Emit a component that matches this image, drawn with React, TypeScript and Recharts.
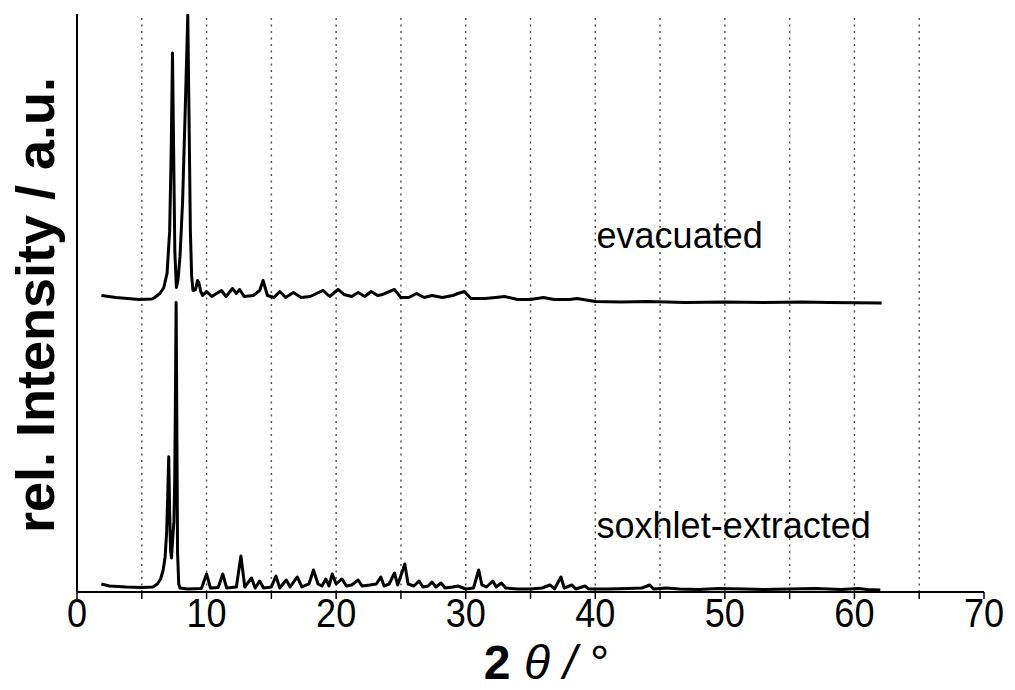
import React from 'react'
import { LineChart, Line, XAxis, YAxis, ReferenceLine, ReferenceDot } from 'recharts'

// 2θ / intensity (a.u.)
const evacuatedAngle = [
  1.88, 3.0, 4.8, 5.8, 6.0, 6.4, 6.7, 6.95, 7.15, 7.27, 7.37, 7.45, 7.55, 7.67, 7.8, 7.95, 8.15, 8.35, 8.55,
  8.65, 8.75, 8.85, 8.95, 9.15, 9.3, 9.4, 9.55, 9.7,
  10.0, 10.4, 11.15, 11.5, 12.0, 12.3, 12.55, 12.9, 13.6, 14.1, 14.36, 14.7, 15.2, 15.65, 16.1, 16.7, 17.3, 18.0,
  19.0, 19.5, 20.15, 20.6, 21.2, 21.7, 22.2, 22.7, 23.2, 23.6, 24.5, 25.0, 25.6, 26.2, 26.8, 27.4, 28.2, 29.0,
  29.4, 29.9, 30.4, 31.5, 32.3, 33.0, 34.0, 35.0, 36.0, 36.8, 38.0, 38.6, 40, 42, 44, 47, 50, 53, 56, 58, 62.1,
]
const evacuatedIntensity = [
  296, 294, 292, 292.5, 294, 298, 304, 318, 360, 440, 538, 450, 340, 304, 312, 335, 390, 480, 576,
  470, 360, 315, 301, 302, 311, 309, 300, 296,
  300, 295, 301, 295, 303, 298, 302, 295, 296, 301, 311, 296, 294, 300, 294, 299, 294, 295,
  301, 295, 302, 297, 295, 299, 295, 300, 296, 297, 302, 294, 294, 298, 294, 296, 294, 296,
  298, 300, 293, 293, 294, 295, 292, 292, 294, 292, 292, 293, 290, 289.5, 290, 289, 289.5, 289, 289.5, 289, 288.5,
]

const soxhletAngle = [
  1.88, 2.5, 3.8, 5.0, 5.85, 6.2, 6.45, 6.65, 6.8, 6.92, 7.0, 7.08, 7.15, 7.22, 7.29, 7.36, 7.42, 7.48, 7.54,
  7.6, 7.65, 7.7, 7.76, 7.85, 7.95,
  8.5, 9.6, 10.0, 10.3, 10.9, 11.25, 11.55, 12.3, 12.65, 12.95, 13.47, 13.75, 14.1, 14.4, 15.0, 15.35, 15.65,
  16.15, 16.45, 17.0, 17.35, 17.9, 18.25, 18.6, 18.9, 19.2, 19.45, 19.7, 20.0, 20.45, 20.8, 21.2, 21.7, 22.0,
  22.6, 23.1, 23.45, 23.7, 24.1, 24.5, 24.75, 25.3, 25.55, 26.0, 26.4, 26.7, 27.1, 27.4, 27.7, 28.1, 28.4,
  29.0, 29.4, 30.0, 30.6, 31.0, 31.25, 31.6, 32.1, 32.35, 32.75, 33.1, 34.0, 35.0, 35.9, 36.5, 36.85, 37.35,
  37.6, 38.2, 38.5, 39.2, 39.5, 41.0, 42.5, 43.6, 44.2, 44.5, 45.5, 46.5, 48.0, 49.5, 51.5, 53.0, 55.0, 57.0,
  59.0, 60.3, 61.0, 62.0,
]
const soxhletIntensity = [
  8, 6, 5, 4.5, 5, 8, 13, 22, 35, 60, 95, 135, 80, 42, 34, 48, 60, 70, 110,
  200, 289, 180, 40, 8, 4,
  3, 3.5, 18, 4, 4.5, 18, 4, 5, 36, 5, 14, 4, 11, 4, 5, 16, 4,
  12, 5, 15, 5, 8, 22, 8, 6, 13, 6, 18, 8, 13, 6, 7, 12, 6,
  7, 8, 15, 6, 8, 19, 7, 28, 8, 6, 11, 5, 6, 10, 5, 9, 4,
  5, 6, 3, 4, 22, 7, 5, 11, 5, 9, 4, 3, 3, 4, 7, 3, 15,
  4, 7, 3, 6, 3, 3, 3.5, 4, 7, 3, 4, 3, 2.5, 3.5, 3, 2.5, 3, 3.5,
  2.5, 3.5, 2.5, 2,
]

const xTicks = [0, 5, 10, 15, 20, 25, 30, 35, 40, 45, 50, 55, 60, 65, 70]
const gridX = [5, 10, 15, 20, 25, 30, 35, 40, 45, 50, 55, 60, 65]

const toPoints = (xs: number[], ys: number[]) => xs.map((x, i) => ({ x, y: ys[i] }))
const evacuated = toPoints(evacuatedAngle, evacuatedIntensity)
const soxhlet = toPoints(soxhletAngle, soxhletIntensity)

const FONT = '"Liberation Sans", Arial, sans-serif'

const AngleTick = ({ x, y, payload }: any) => {
  if (payload.value % 10 !== 0) return <g />
  return (
    <text
      transform={`translate(${x},${y + 28}) scale(0.88,1)`}
      textAnchor="middle"
      fontSize={41}
      fontFamily={FONT}
      fill="#000"
    >
      {payload.value}
    </text>
  )
}

const XTitle = ({ viewBox }: any) => {
  const cx = viewBox.x + viewBox.width / 2 + 16
  return (
    <text x={cx} y={679} textAnchor="middle" fontSize={48} fontFamily={FONT} fill="#000">
      <tspan fontWeight="bold">2</tspan>
      <tspan fontStyle="italic"> θ / </tspan>
      <tspan>°</tspan>
    </text>
  )
}

const YTitle = ({ viewBox }: any) => (
  <text
    transform={`translate(54,${viewBox.y + 2}) rotate(-90)`}
    textAnchor="middle"
    fontSize={54}
    fontWeight="bold"
    fontFamily={FONT}
    fill="#000"
  >
    rel. Intensity / a.u.
  </text>
)

const tag = (txt: string) => ({ viewBox }: any) => (
  <text x={viewBox.x} y={viewBox.y} fontSize={36} fontFamily={FONT} fill="#000">
    {txt}
  </text>
)

export default function App() {
  return (
    <div style={{ position: 'absolute', left: 0, top: 0, width: 1015, height: 690, background: '#fff' }}>
      <LineChart width={1015} height={690} margin={{ top: 14, right: 31, left: 77, bottom: 38 }}>
        {gridX.map((g) => (
          <ReferenceLine key={g} x={g} stroke="#555" strokeWidth={1.5} strokeDasharray="2 4.5" />
        ))}
        <XAxis
          type="number"
          dataKey="x"
          domain={[0, 70]}
          ticks={xTicks}
          interval={0}
          height={60}
          tickSize={7}
          tickMargin={0}
          tick={<AngleTick />}
          axisLine={{ stroke: '#000', strokeWidth: 2 }}
          tickLine={{ stroke: '#000', strokeWidth: 1.5 }}
          label={{ content: <XTitle /> }}
        />
        <YAxis type="number" domain={[0, 577]} allowDataOverflow hide />
        <ReferenceLine x={0} stroke="#000" strokeWidth={2} />
        <Line
          data={evacuated}
          dataKey="y"
          type="linear"
          stroke="#000"
          strokeWidth={3}
          strokeLinejoin="round"
          dot={false}
          activeDot={false}
          isAnimationActive={false}
        />
        <Line
          data={soxhlet}
          dataKey="y"
          type="linear"
          stroke="#000"
          strokeWidth={3}
          strokeLinejoin="round"
          dot={false}
          activeDot={false}
          isAnimationActive={false}
        />
        <ReferenceDot x={0} y={288.5} r={0} fill="none" stroke="none" label={{ content: YTitle }} />
        <ReferenceDot x={40.1} y={343} r={0} fill="none" stroke="none" label={{ content: tag('evacuated') }} />
        <ReferenceDot x={40.1} y={54} r={0} fill="none" stroke="none" label={{ content: tag('soxhlet-extracted') }} />
      </LineChart>
    </div>
  )
}
